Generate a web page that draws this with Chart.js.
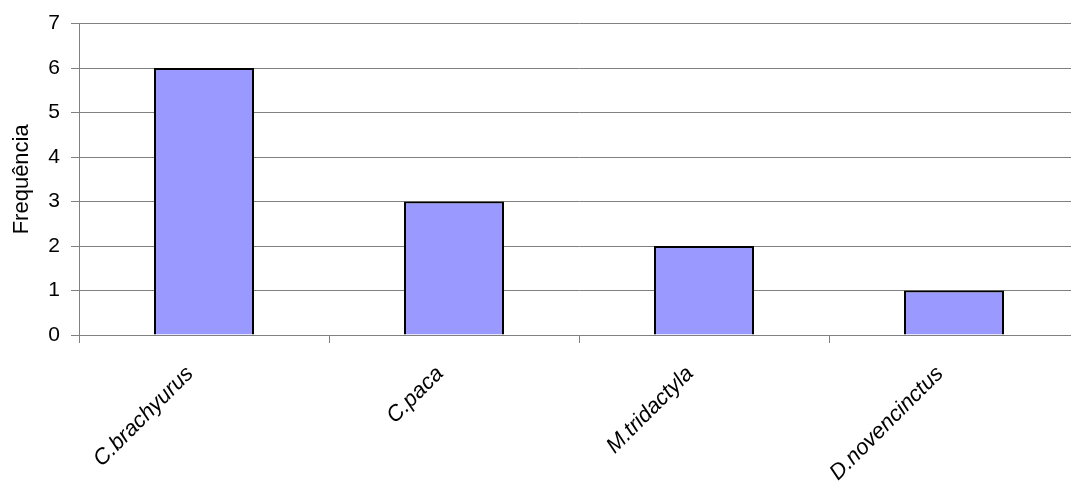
<!DOCTYPE html>
<html>
<head>
<meta charset="utf-8">
<script src="https://cdn.jsdelivr.net/npm/chart.js@4"></script>
<style>
  body { margin: 0; overflow: hidden; background: #fff; }
</style>
</head>
<body>
<canvas id="chart" width="1090" height="489"></canvas>
<script>
const categories = ['C.brachyurus', 'C.paca', 'M.tridactyla', 'D.novencinctus'];
const frequencies = [6, 3, 2, 1];
const yTicks = [0, 1, 2, 3, 4, 5, 6, 7];

const ctx = document.getElementById('chart').getContext('2d');
new Chart(ctx, {
    type: 'bar',
    data: {
        labels: categories,
        datasets: [{
            label: 'Frequência',
            data: frequencies,
            backgroundColor: '#9999ff',
            borderColor: '#000000',
            borderWidth: 2,
            barPercentage: 0.4,
            categoryPercentage: 1.0
        }]
    },
    options: {
        responsive: false,
        animation: false,
        layout: { padding: { top: 22, right: 11, left: 0, bottom: 0 } },
        plugins: {
            legend: { display: false },
            tooltip: { enabled: false }
        },
        scales: {
            x: {
                grid: { drawOnChartArea: false, drawTicks: true, tickLength: 8, color: '#808080' },
                border: { color: '#808080', width: 1 },
                ticks: {
                    minRotation: 45,
                    maxRotation: 45,
                    padding: 18,
                    labelOffset: -14,
                    color: '#000',
                    font: { family: 'Liberation Sans, Arial', size: 22, style: 'italic' }
                },
                afterFit: (scale) => { scale.height = 154; }
            },
            y: {
                min: yTicks[0],
                max: yTicks[yTicks.length - 1],
                afterBuildTicks: (scale) => { scale.ticks = yTicks.map(v => ({ value: v })); },
                grid: { color: '#808080', lineWidth: 1, tickLength: 8 },
                border: { color: '#808080', width: 1 },
                ticks: {
                    color: '#000',
                    padding: 11,
                    font: { family: 'Liberation Sans, Arial', size: 21 }
                },
                title: {
                    display: true,
                    text: 'Frequência',
                    color: '#000',
                    padding: { top: 9, bottom: 0 },
                    font: { family: 'Liberation Sans, Arial', size: 22 }
                },
                afterFit: (scale) => { scale.width = 79; }
            }
        }
    }
});
</script>
</body>
</html>
